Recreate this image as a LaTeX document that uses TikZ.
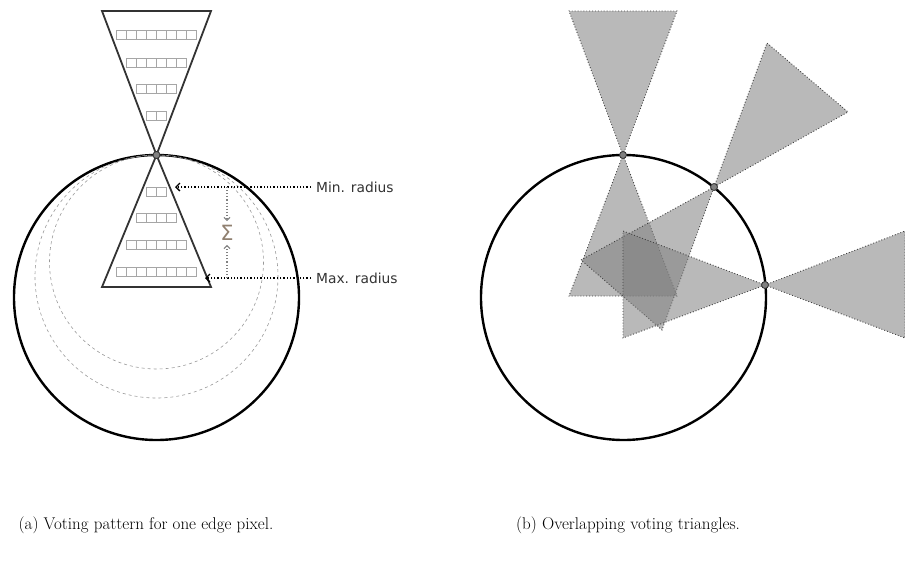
\documentclass[tikz,border=0pt]{standalone}
\usepackage{fontspec}
\newfontfamily\labelfont{DejaVu Sans}
\usetikzlibrary{arrows.meta}

\begin{document}
\begin{tikzpicture}[x=1pt,y=-1pt,
	rim/.style={line width=2.4pt},
	guide/.style={dashed, gray!80, line width=0.6pt},
	cone/.style={line width=1.8pt, draw=black!80},
	cell/.style={draw=black!35, line width=1.1pt},
	vote/.style={fill=gray, fill opacity=0.55, draw=black!75, dotted, line width=0.9pt},
	pix/.style={circle, fill=gray, draw=black!80, line width=0.8pt, inner sep=0pt, minimum size=7pt},
	lbl/.style={font=\labelfont\fontsize{13.8}{16}\selectfont, text=black!80, anchor=west, inner xsep=5pt, inner ysep=0pt},
	ptr/.style={dotted, line width=1.3pt, -{Straight Barb[length=4pt,width=8pt]}},
	sumptr/.style={dotted, line width=1.1pt, gray, -{Straight Barb[length=3pt,width=6pt]}},
	subcap/.style={font=\fontsize{17}{20}\selectfont}]
	\useasboundingbox (0,0) rectangle (905,560);
	% (a) voting pattern
	\coordinate (ca) at (156.5,297.5);
	\coordinate (pa) at (156.5,155);
	\coordinate (ta) at (102,11);
	\coordinate (tb) at (211,11);
	\coordinate (ba) at (102,287);
	\coordinate (bb) at (211,287);
	\coordinate (minend) at (175,187);
	\coordinate (maxend) at (205,278);
	\coordinate (sumtop) at (227,187);
	\coordinate (sumbot) at (227,278);
	%
	\draw[rim] (ca) circle (142.5);
	\draw[guide] (156.5,276.5) circle (121.5);
	\draw[guide] (156.5,262) circle (107);
	\draw[cone] (pa) -- (ta) -- (tb) -- cycle;
	\draw[cone] (pa) -- (ba) -- (bb) -- cycle;
	% accumulator cells
	\foreach \y/\n in {35/8, 63/6, 89/4, 116/2, 192/2, 218/4, 245/6, 272/8}
		\foreach \i in {1,...,\n}
			\draw[cell] ({156.5+(\i-1-\n/2)*10.1},\y-4.5) rectangle ++(10.1,9);
	\node[pix] (pxa) at (pa) {};
	% labels
	\node[lbl] (minlbl) at (311,187) {Min. radius};
	\node[lbl] (maxlbl) at (311,278) {Max. radius};
	\draw[ptr] (minlbl.west) -- (minend);
	\draw[ptr] (maxlbl.west) -- (maxend);
	\node[font=\labelfont\fontsize{21}{24}\selectfont, text=gray!75!brown, inner sep=4pt] (sum) at (227,233) {Σ};
	\draw[sumptr] (sumtop) -- (sum.north);
	\draw[sumptr] (sumbot) -- (sum.south);
	% (b) overlapping triangles
	\coordinate (cb) at (623.5,297.5);
	\coordinate (p1) at (623,155);
	\coordinate (p2) at (714,187);
	\coordinate (p3) at (765,285);
	%
	\filldraw[vote] (p1) -- (569,11) -- (677,11) -- cycle;
	\filldraw[vote] (p1) -- (569,296) -- (677,296) -- cycle;
	\filldraw[vote] (p2) -- (767,43) -- (848,112) -- cycle;
	\filldraw[vote] (p2) -- (581,260) -- (662,330) -- cycle;
	\filldraw[vote] (p3) -- (905,231) -- (905,338) -- cycle;
	\filldraw[vote] (p3) -- (623,231) -- (623,338) -- cycle;
	\draw[rim] (cb) circle (142.5);
	\node[pix] (px1) at (p1) {};
	\node[pix] (px2) at (p2) {};
	\node[pix] (px3) at (p3) {};
	% captions
	\node[subcap, anchor=base] (capa) at (146,529) {(a) Voting pattern for one edge pixel.};
	\node[subcap, anchor=base] (capb) at (628,529) {(b) Overlapping voting triangles.};
\end{tikzpicture}
\end{document}
